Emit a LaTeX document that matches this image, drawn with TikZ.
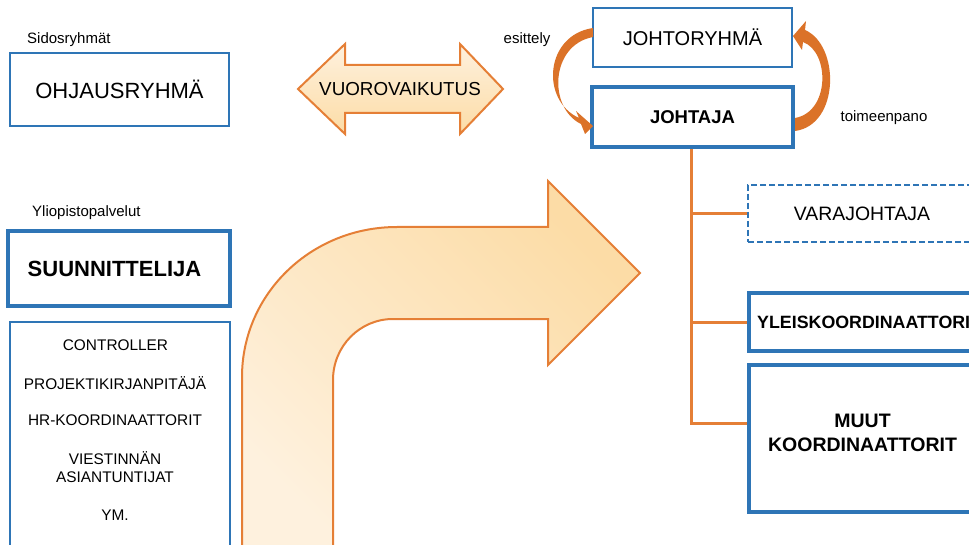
\documentclass[tikz,border=0pt]{standalone}
\usepackage{fontspec}
\setmainfont{Liberation Sans}
\newcommand\fsz[2]{\fontsize{#1}{#2}\selectfont}
\definecolor{boxblue}{HTML}{2E75B6}
\definecolor{orline}{HTML}{E57F36}
\definecolor{ordark}{HTML}{DB7228}
\definecolor{cream}{HTML}{FEF1DE}
\definecolor{peach}{HTML}{FCDCA6}
\tikzset{
  thinbox/.style={draw=boxblue, line width=2.2pt, fill=white, inner sep=0pt},
  thickbox/.style={draw=boxblue, line width=4.5pt, fill=white, inner sep=0pt},
  dashbox/.style={draw=boxblue, line width=2pt, dash pattern=on 6pt off 3pt, fill=white, inner sep=0pt},
  lbl/.style={inner sep=0pt, text=black},
  tree/.style={draw=orline, line width=3pt},
  bigarrow/.style={draw=orline, line width=2pt, top color=peach, bottom color=cream, shading angle=-45},
  dblarrow/.style={draw=orline, line width=2pt, top color=cream, bottom color=peach},
  curvearrow/.style={fill=ordark, draw=none}
}
\begin{document}
\begin{tikzpicture}[x=1pt,y=-1pt]
\useasboundingbox (0,0) rectangle (969,545);
\clip (0,0) rectangle (969,545);

% big bent arrow
\path[bigarrow] (242,560) -- (242,377) .. controls (242,294) and (311,227) .. (397,227)
  -- (548,227) -- (548,181) -- (640,273) -- (548,365) -- (548,319) -- (393,319)
  .. controls (360,319) and (333,346) .. (333,380) -- (333,560) -- cycle;

% double arrow
\path[dblarrow] (298,89) -- (345,44) -- (345,65) -- (460,65) -- (460,44) -- (503,89)
  -- (460,134) -- (460,113) -- (345,113) -- (345,134) -- cycle;
\node[lbl, font=\fsz{18.8}{22}] (vuoro) at (400,89) {VUOROVAIKUTUS};

% left column
\node[lbl, anchor=west, font=\fsz{15}{18}] (sidos) at (27,40) {Sidosryhmät};
\node[thinbox, minimum width=219, minimum height=73, font=\fsz{22}{26}] (ohjaus) at (119.5,89.5) {OHJAUSRYHMÄ};

\node[lbl, anchor=west, font=\fsz{15}{18}] (ylio) at (32,213) {Yliopistopalvelut};
\node[thickbox, minimum width=222, minimum height=75] (suunn) at (119,268.5) {};
\node[lbl, font=\fsz{22}{26}\bfseries] (suunnt) at (114.5,268.5) {SUUNNITTELIJA};

\node[thinbox, minimum width=220, minimum height=250] (palv) at (120,447) {};
\node[lbl, font=\fsz{15.4}{18}] (contr) at (115.5,345) {CONTROLLER};
\node[lbl, font=\fsz{15.4}{18}] (proj) at (115,383) {PROJEKTIKIRJANPITÄJÄ};
\node[lbl, font=\fsz{15.4}{18}] (hr) at (115,420) {HR-KOORDINAATTORIT};
\node[lbl, align=center, font=\fsz{15.4}{18}] (viest) at (115,467) {VIESTINNÄN\\ASIANTUNTIJAT};
\node[lbl, font=\fsz{15.4}{18}] (ym) at (115,515) {YM.};

% top right
\node[thinbox, minimum width=199, minimum height=59, font=\fsz{20}{24}] (jryhma) at (692.5,37.5) {JOHTORYHMÄ};
\node[thickbox, minimum width=201, minimum height=60, font=\fsz{18.5}{22}\bfseries] (johtaja) at (692.5,117) {JOHTAJA};
\node[lbl, font=\fsz{15}{18}] (esit) at (527,40) {esittely};
\node[lbl, font=\fsz{15}{18}] (toim) at (884,118) {toimeenpano};

% curved arrows
\fill[curvearrow] (593,28) .. controls (545,35) and (540,100) .. (579,118)
  -- (576,111) -- (593,126) -- (585,134) -- (581,124)
  .. controls (548,108) and (550,45) .. (593,37) -- cycle;
\fill[curvearrow] (795,131) .. controls (840,125) and (840,45) .. (805,30)
  -- (806,21) -- (793,36) -- (802,50) -- (803,42)
  .. controls (830,52) and (830,112) .. (795,118) -- cycle;

% right boxes
\node[dashbox, minimum width=228, minimum height=57, font=\fsz{19.4}{23}] (vara) at (862,213.5) {VARAJOHTAJA};
\node[thickbox, minimum width=231, minimum height=58] (yleis) at (864.5,322) {};
\node[lbl, anchor=west, font=\fsz{17.8}{21}\bfseries] (yleist) at (757,322) {YLEISKOORDINAATTORI};
\node[thickbox, minimum width=231, minimum height=147] (muut) at (864.5,438.5) {};
\node[lbl, align=center, font=\fsz{19.5}{24}\bfseries] (muutt) at (862.5,433) {MUUT\\KOORDINAATTORIT};

% tree
\coordinate (trunk) at (691,423);
\draw[tree] (johtaja.south -| trunk) -- (trunk) -- (muut.west |- trunk);
\draw[tree] (trunk |- vara.west) -- (vara.west);
\draw[tree] (trunk |- yleis.west) -- (yleis.west);
\end{tikzpicture}
\end{document}
